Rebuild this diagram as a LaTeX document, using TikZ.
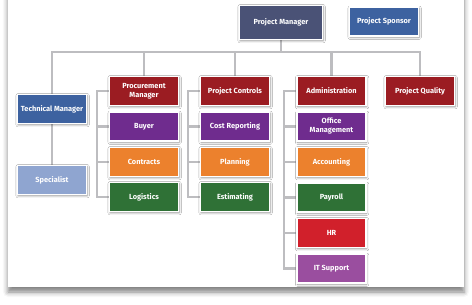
\documentclass[tikz,border=0pt]{standalone}
\usepackage{fontspec}
\setmainfont{Fira Sans}
\usetikzlibrary{shadows.blur,backgrounds}

\definecolor{pmslate}{HTML}{4A5276}
\definecolor{roleblue}{HTML}{3D62A0}
\definecolor{leadred}{HTML}{9B1C22}
\definecolor{taskpurple}{HTML}{6F2C8E}
\definecolor{taskorange}{HTML}{EC812D}
\definecolor{taskgreen}{HTML}{2F7136}
\definecolor{hrred}{HTML}{D1202B}
\definecolor{itviolet}{HTML}{9A4E9F}
\definecolor{lightblue}{HTML}{8FA5D0}
\definecolor{wire}{HTML}{BDBDC0}

\begin{document}
\begin{tikzpicture}[x=1bp,y=-1bp,
  role/.style={draw=white, line width=1.4bp, fill=#1, text=white,
    minimum width=69bp, minimum height=29bp, inner sep=1bp,
    align=center, font=\fontsize{7.4bp}{9bp}\selectfont\bfseries,
    blur shadow={shadow xshift=0.6bp, shadow yshift=-1.2bp,
      shadow blur radius=2.2bp, shadow opacity=45}},
  link/.style={draw=wire, line width=2.2bp}]

\useasboundingbox (0,0) rectangle (472,304);

% top row
\node[role=pmslate, minimum width=83bp, minimum height=34bp] (pm) at (281,22.5) {Project Manager};
\node[role=roleblue] (ps) at (384,21.5) {Project Sponsor};

% second level
\node[role=roleblue] (tm) at (52,109) {Technical Manager};
\node[role=leadred] (proc) at (144,91) {Procurement\\Manager};
\node[role=leadred] (pc) at (235,91) {Project Controls};
\node[role=leadred] (adm) at (331.5,91) {Administration};
\node[role=leadred] (pq) at (420,91) {Project Quality};

% technical branch
\node[role=lightblue] (spec) at (52,180) {Specialist};

% procurement branch
\node[role=taskpurple] (buyer) at (144,126.5) {Buyer};
\node[role=taskorange] (contr) at (144,162) {Contracts};
\node[role=taskgreen] (logi) at (144,197) {Logistics};

% project controls branch
\node[role=taskpurple] (cost) at (235,126.5) {Cost Reporting};
\node[role=taskorange] (plan) at (235,162) {Planning};
\node[role=taskgreen] (est) at (235,197) {Estimating};

% administration branch
\node[role=taskpurple] (office) at (331.5,126.5) {Office\\Management};
\node[role=taskorange] (acc) at (331.5,162) {Accounting};
\node[role=taskgreen] (pay) at (331.5,197.5) {Payroll};
\node[role=hrred] (hr) at (331.5,233) {HR};
\node[role=itviolet] (it) at (331.5,268.5) {IT Support};

\coordinate (bus) at (0,52);
\begin{scope}[on background layer]
% sheet with its soft shadow
\fill[white, blur shadow={shadow xshift=0bp, shadow yshift=-5bp,
      shadow blur radius=5bp, shadow opacity=50}] (8,-10) rectangle (464,287);

% main bus
\draw[link] (pm.south) -- (pm.south |- bus);
\draw[link] (tm.north) -- (tm.north |- bus) -- (pq.north |- bus) -- (pq.north);
\draw[link] (proc.north |- bus) -- (proc.north);
\draw[link] (pc.north |- bus) -- (pc.north);
\draw[link] (adm.north |- bus) -- (adm.north);
\draw[link] (tm.south) -- (spec.north);

% branch spines
\draw[link] (proc.west) -- ++(-12,0) |- (logi.west);
\draw[link] (buyer.west) -- ++(-12,0);
\draw[link] (contr.west) -- ++(-12,0);

\draw[link] (pc.west) -- ++(-11.5,0) |- (est.west);
\draw[link] (cost.west) -- ++(-11.5,0);
\draw[link] (plan.west) -- ++(-11.5,0);

\draw[link] (adm.west) -- ++(-12,0) |- (it.west);
\draw[link] (office.west) -- ++(-12,0);
\draw[link] (acc.west) -- ++(-12,0);
\draw[link] (pay.west) -- ++(-12,0);
\draw[link] (hr.west) -- ++(-12,0);
\end{scope}
\end{tikzpicture}
\end{document}
